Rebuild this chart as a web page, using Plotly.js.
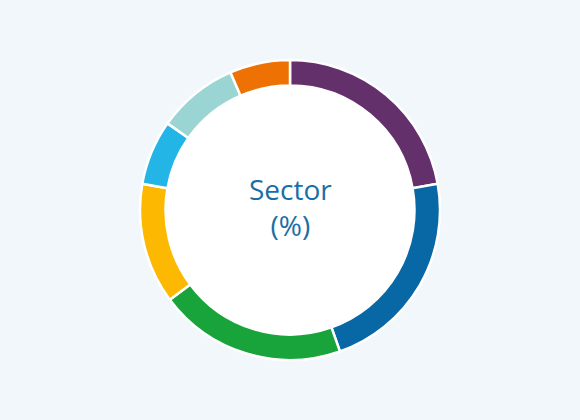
<!DOCTYPE html>
<html>
<head>
<meta charset="utf-8">
<script src="https://cdn.plot.ly/plotly-3.0.1.min.js"></script>
<style>
  html, body { margin: 0; padding: 0; background: #f2f7fb; }
  #chart { width: 580px; height: 420px; }
</style>
</head>
<body>
<div id="chart"></div>
<script>
    'use strict';

    // sector shares, clockwise from 12 o'clock
    var sectors = ['Sector A', 'Sector B', 'Sector C', 'Sector D', 'Sector E', 'Sector F', 'Sector G'];
    var shares = [22.2, 22.4, 20.2, 13.0, 7.0, 8.7, 6.5];
    var sliceColors = ['#63306b', '#0868a6', '#18a43b', '#fdb802', '#22b5e6', '#9bd5d3', '#ee7203'];
    var centerLabel = 'Sector<br>(%)';

    var ring = {
        type: 'pie',
        labels: sectors,
        values: shares,
        hole: 0.83,
        sort: false,
        direction: 'clockwise',
        rotation: 0,
        textinfo: 'none',
        hoverinfo: 'label+percent',
        marker: {
            colors: sliceColors,
            line: { color: '#ffffff', width: 2.5 }
        },
        showlegend: false
    };

    var layout = {
        width: 580,
        height: 420,
        margin: { l: 140, r: 140, t: 60, b: 60 },
        paper_bgcolor: '#f2f7fb',
        plot_bgcolor: '#f2f7fb',
        shapes: [{
            // white disc behind the hole
            type: 'circle',
            xref: 'paper', yref: 'paper',
            x0: 0.08, x1: 0.92, y0: 0.08, y1: 0.92,
            fillcolor: '#ffffff',
            line: { width: 0 },
            layer: 'below'
        }],
        annotations: [{
            text: centerLabel,
            x: 0.5, y: 0.51,
            xref: 'paper', yref: 'paper',
            showarrow: false,
            font: { family: 'Open Sans, sans-serif', size: 28, color: '#1a6ea4' }
        }]
    };

    Plotly.newPlot('chart', [ring], layout, { displayModeBar: false, staticPlot: true });
</script>
</body>
</html>
